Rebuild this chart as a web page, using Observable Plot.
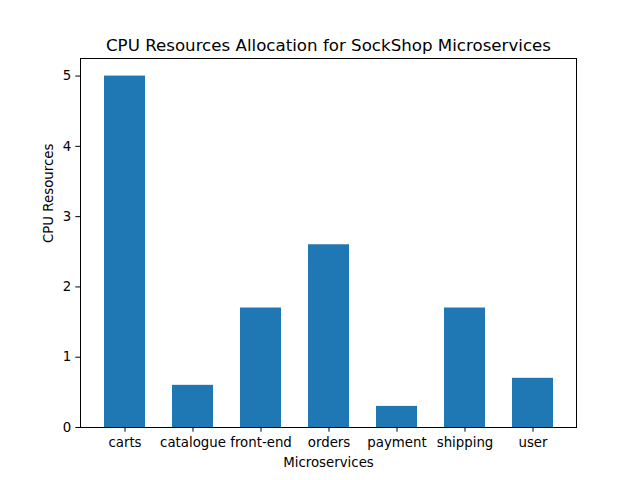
<!DOCTYPE html>
<html>
<head>
<meta charset="utf-8">
<script src="https://cdn.jsdelivr.net/npm/d3@7"></script>
<script src="https://cdn.jsdelivr.net/npm/@observablehq/plot@0.6"></script>
<style>
  body { margin: 0; background: #fff; }
</style>
</head>
<body>
<div id="chart"></div>
<script>
const services = ["carts", "catalogue", "front-end", "orders", "payment", "shipping", "user"];
const cpu = [5.0, 0.6, 1.7, 2.6, 0.3, 1.7, 0.7];
const yTicks = [0, 1, 2, 3, 4, 5];
const title = "CPU Resources Allocation for SockShop Microservices";
const xLabel = "Microservices";
const yLabel = "CPU Resources";

const data = services.map((s, i) => ({service: s, cpu: cpu[i]}));

const chart = Plot.plot({
  width: 640,
  height: 480,
  marginLeft: 80,
  marginRight: 64,
  marginTop: 58,
  marginBottom: 53,
  style: {fontFamily: "DejaVu Sans", fontSize: "13.33px", color: "#000", background: "#fff"},
  x: {type: "band", domain: services, paddingInner: 0.4, paddingOuter: 0.32, label: null},
  y: {domain: [0, 5.25], label: null},
  marks: [
    Plot.barY(data, {x: "service", y: "cpu", fill: "#1f77b4"}),
    Plot.axisX({tickSize: 4.67, tickPadding: 5.5, label: null, fontSize: 13.33}),
    Plot.axisY({ticks: yTicks, tickFormat: d3.format("d"), tickSize: 4.67, tickPadding: 4.67, label: null, fontSize: 13.33}),
    Plot.frame({stroke: "#000", strokeWidth: 1}),
    Plot.text([title], {frameAnchor: "top", dy: -19, fontSize: 16.67, fill: "#000"}),
    Plot.text([xLabel], {frameAnchor: "bottom", dy: 39, fontSize: 13.33, fill: "#000"}),
    Plot.text([yLabel], {frameAnchor: "left", rotate: -90, dx: -32, fontSize: 13.33, fill: "#000"})
  ]
});
document.getElementById("chart").appendChild(chart);
</script>
</body>
</html>
